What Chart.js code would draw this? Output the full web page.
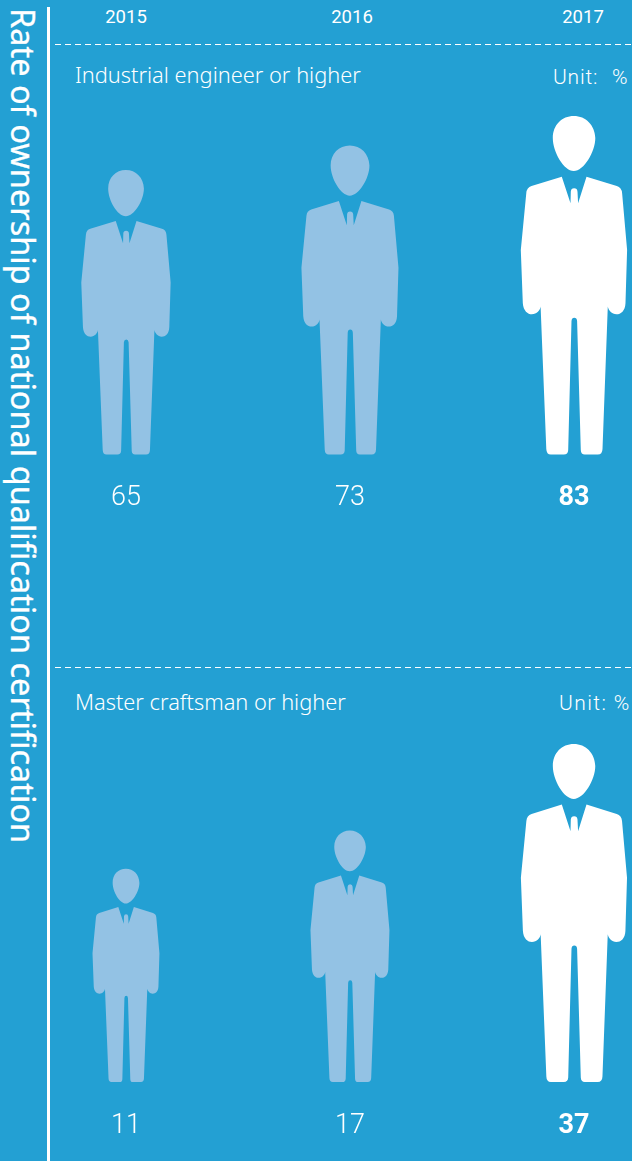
<!DOCTYPE html>
<html>
<head>
<meta charset="utf-8">
<title>Rate of ownership of national qualification certification</title>
<script src="https://cdn.jsdelivr.net/npm/chart.js@4"></script>
<style>
html, body { margin: 0; padding: 0; }
body { width: 632px; height: 1161px; background: #23a0d3; position: relative; overflow: hidden; color: #fff; }
canvas { position: absolute; left: 0; }
.txt { position: absolute; white-space: nowrap; line-height: 1; }
.year { font: 400 18.5px Roboto; top: 6px; transform: translateX(-50%); }
.dash { position: absolute; left: 55px; width: 577px; height: 1px;
	background: repeating-linear-gradient(90deg, #fff 0 6px, transparent 6px 10px); }
.panel { font: 300 21.8px "Noto Sans"; }
.unit { font: 300 21px Roboto; letter-spacing: 0.8px; }
#axisline { position: absolute; left: 47px; top: 7px; width: 3px; height: 1154px; background: #fff; }
#ytitle { position: absolute; left: 2px; top: 8px; writing-mode: vertical-rl; white-space: nowrap;
	font: 400 32.5px "Noto Sans"; line-height: 42px; -webkit-text-stroke: 0.3px #fff; }
</style>
</head>
<body>
<div id="ytitle">Rate of ownership of national qualification certification</div>
<div id="axisline"></div>

<div class="txt year" style="left:126px">2015</div>
<div class="txt year" style="left:352px">2016</div>
<div class="txt year" style="left:583px">2017</div>

<div class="dash" style="top:44px"></div>
<div class="txt panel" style="left:75px;top:60px">Industrial engineer or higher</div>
<div class="txt unit" style="left:553px;top:65px;word-spacing:1px">Unit:&nbsp; %</div>
<canvas id="chart_industrial" width="632" height="640" style="top:0"></canvas>

<div class="dash" style="top:667px"></div>
<div class="txt panel" style="left:75px;top:687px">Master craftsman or higher</div>
<div class="txt unit" style="left:559px;top:691px;letter-spacing:1.4px">Unit: %</div>
<canvas id="chart_master" width="632" height="521" style="top:640px"></canvas>

<script>
var years = ['2015', '2016', '2017'];
var industrial = [65, 73, 83];
var master = [11, 17, 37];

var lightColor = '#93c2e4';
var iconColors = [lightColor, lightColor, '#ffffff'];

//the icons are not drawn to a straight scale, height goes with value^exponent
class PowerScale extends Chart.LinearScale {
	static id = 'power';
	static defaults = Chart.LinearScale.defaults;
	getPixelForValue(value) {
		var d = (value - this.min) / (this.max - this.min);
		return this.getPixelForDecimal(Math.pow(d, this.options.exponent));
	}
	getValueForPixel(pixel) {
		var d = this.getDecimalForPixel(pixel);
		return this.min + Math.pow(d, 1 / this.options.exponent) * (this.max - this.min);
	}
}
Chart.register(PowerScale);

//silhouette traced from the tallest icon, feet at 454.5, head at 116
var personPath = new Path2D(
	'M574 116 C586 116 595 125 595.5 138 C595.5 152 584 171 574 171 C564 171 553 152 553 138 C553 125 562 116 574 116 Z ' +
	'M562 176.7 L531.7 186 Q527 187.5 526.5 193 L521 250 L523 303 C523.5 311 528 314.3 532 314.3 C537 314.3 540.5 310 540.8 306.5 ' +
	'L546.5 449 Q546.7 454.5 551 454.5 L564 454.5 Q568.2 454.5 568.4 450 L571.7 321 Q572 317.7 574.5 317.7 Q577 317.7 577.3 321 ' +
	'L581 450 Q581.2 454.5 585 454.5 L598 454.5 Q602.5 454.5 602.7 449 L608 306.5 C608.5 310 612 314.3 616.7 314.3 ' +
	'C621 314.3 625.4 311 625.7 303 L627.3 250 L622.3 193 Q621.8 187.5 617 186 L586.7 176.7 L578.3 203.3 L577.7 191.7 ' +
	'Q577.5 188.3 574.3 188.3 Q571.2 188.3 571 191.7 L570.7 203.3 Z'
);

var personBars = {
	id: 'personBars',
	beforeDatasetDraw: function (chart, args) {
		var ctx = chart.ctx;
		args.meta.data.forEach(function (bar, i) {
			var p = bar.getProps(['x', 'y', 'base'], true);
			var s = (p.base - p.y) / 338.5;
			ctx.save();
			ctx.translate(p.x - 574.2 * s, p.base - 454.5 * s);
			ctx.scale(s, s);
			ctx.fillStyle = iconColors[i];
			ctx.fill(personPath);
			ctx.restore();
		});
		return false; // no plain bar under the icon
	}
};

function drawChart(id, series, exponent, areaTop, areaBottom) {
	var canvas = document.getElementById(id);
	new Chart(canvas, {
		type: 'bar',
		data: {
			labels: years,
			datasets: [{ data: series, backgroundColor: iconColors }]
		},
		plugins: [personBars],
		options: {
			responsive: false,
			animation: false,
			layout: { padding: { left: 126, right: 58, top: areaTop, bottom: 0 } },
			plugins: { legend: { display: false }, tooltip: { enabled: false } },
			scales: {
				x: {
					offset: false,
					grid: { display: false },
					border: { display: false },
					afterFit: function (scale) { scale.height = canvas.height - areaBottom; },
					ticks: {
						color: '#ffffff',
						padding: 20,
						maxRotation: 0,
						autoSkip: false,
						callback: function (v, i) { return String(series[i]); },
						font: function (c) {
							return { family: 'Roboto', size: 27, weight: c.index == 2 ? 'bold' : 300 };
						}
					}
				},
				y: {
					type: 'power',
					exponent: exponent,
					min: 0,
					max: Math.max.apply(null, series),
					display: false
				}
			}
		}
	});
}

drawChart('chart_industrial', industrial, 0.71, 116, 454.5);
drawChart('chart_master', master, 0.38, 104, 442);
</script>
</body>
</html>
